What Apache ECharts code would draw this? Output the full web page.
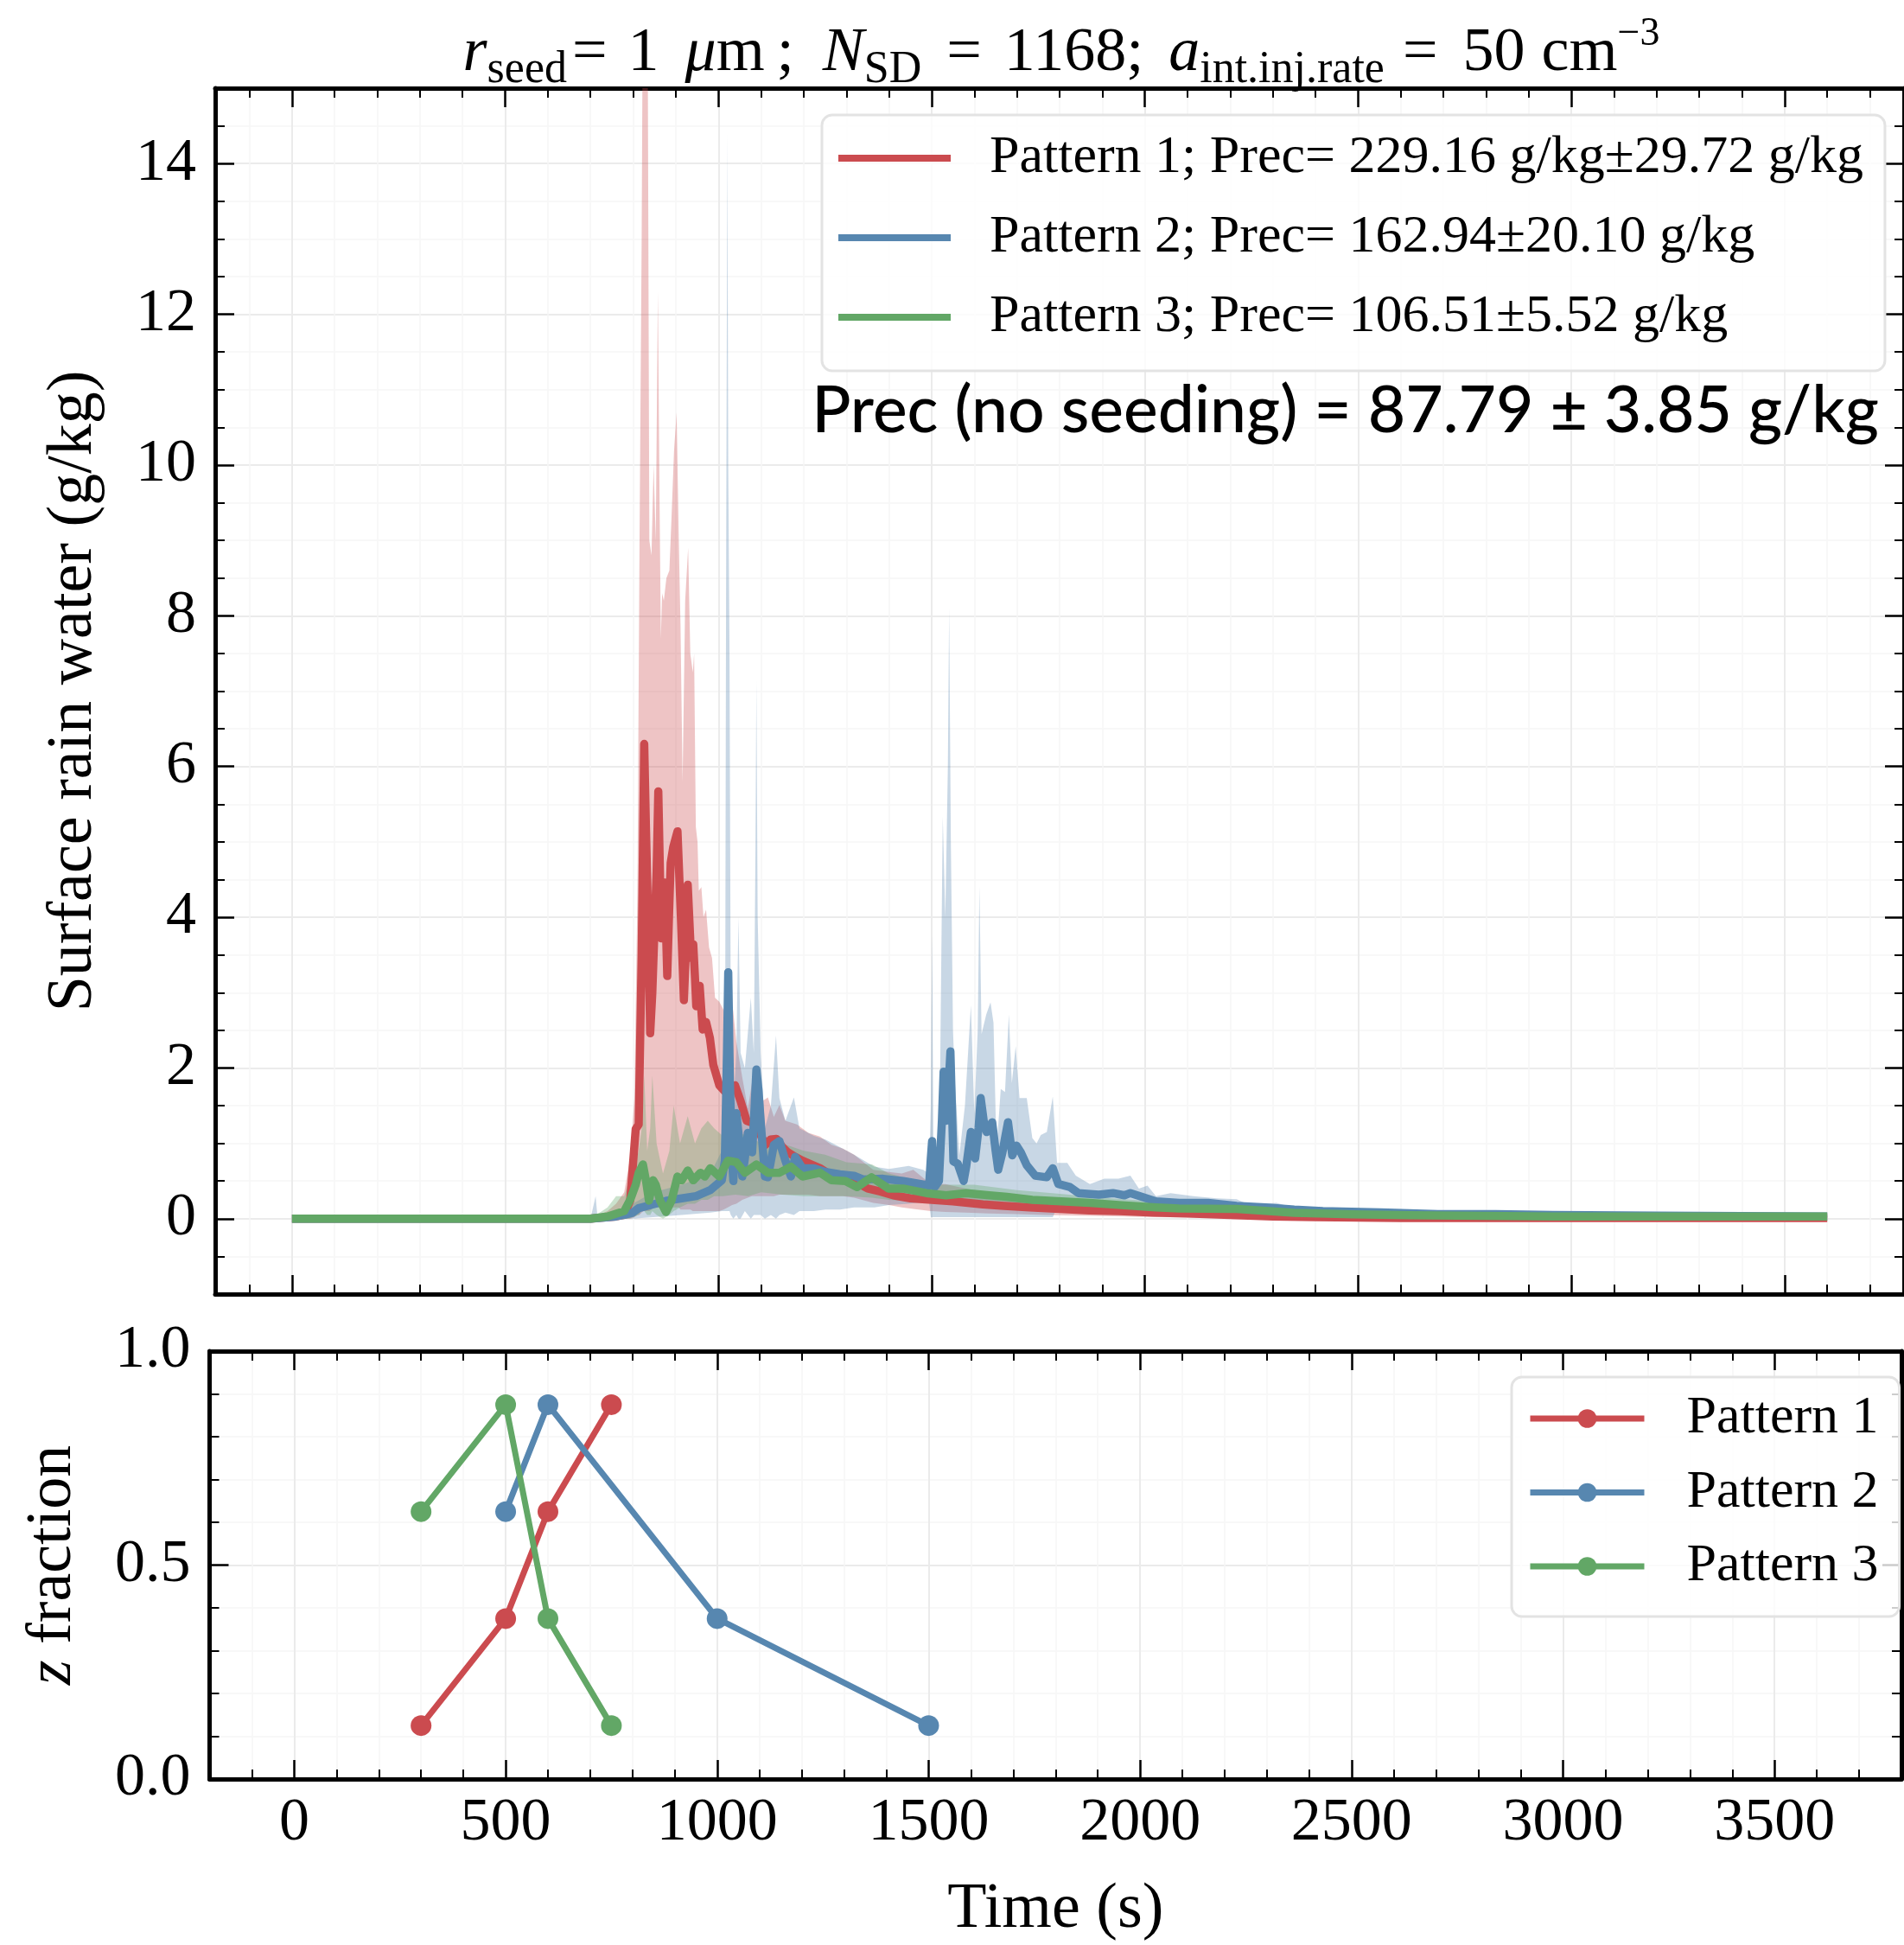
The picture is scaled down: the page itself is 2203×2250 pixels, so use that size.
<!DOCTYPE html>
<html><head><meta charset="utf-8">
<script src="https://cdn.jsdelivr.net/npm/echarts@6/dist/echarts.min.js"></script>
<style>html,body{margin:0;padding:0;background:#fff}#c{width:2203px;height:2250px}</style>
</head><body><div id="c"></div>
<script>
// ---------- DATA ----------
const legendNames = [
  'Pattern 1; Prec= 229.16 g/kg\u00b129.72 g/kg',
  'Pattern 2; Prec= 162.94\u00b120.10 g/kg',
  'Pattern 3; Prec= 106.51\u00b15.52 g/kg'
];
const patternNames = ['Pattern 1', 'Pattern 2', 'Pattern 3'];

// Pattern 1 mean
const p1T = [0,700,740,760,779,793,806,813,820,826,830,835,840,845,850,855,859,866,870,874,880,884,888,894,904,912,919,924,928,936,941,945,948,956,963,971,980,988,1002,1015,1027,1039,1052,1066,1076,1086,1098,1110,1122,1136,1150,1163,1180,1197,1218,1238,1258,1278,1298,1318,1350,1380,1410,1450,1500,1550,1620,1670,1730,1800,1870,1940,2020,2100,2200,2300,2400,2500,2600,2800,3000,3300,3600];
const p1M = [0,0,0.02,0.03,0.05,0.24,1.19,1.25,3.5,6.3,5.2,4.0,2.46,3.0,3.83,4.6,5.67,3.72,4.3,4.46,3.22,4.0,4.72,4.93,5.14,4.0,2.9,3.6,4.43,3.46,3.64,3.2,2.82,3.09,2.51,2.61,2.4,2.04,1.77,1.69,1.72,1.77,1.56,1.3,1.28,1.3,1.12,0.98,1.05,1.06,0.95,0.88,0.82,0.77,0.72,0.67,0.6,0.56,0.52,0.5,0.40,0.36,0.31,0.27,0.25,0.23,0.19,0.17,0.15,0.13,0.11,0.10,0.08,0.07,0.05,0.03,0.02,0.015,0.01,0.01,0.01,0.01,0.01];
// Pattern 1 band (mean - std, mean + std)
const p1BT = [0,700,740,760,779,793,803,810,815,820,825,830,834,838,843,848,853,858,862,865,868,872,878,885,890,896,902,907,911,916,922,929,934,940,943,947,951,954,960,965,971,978,985,992,1002,1012,1022,1032,1042,1056,1069,1079,1089,1103,1116,1130,1143,1157,1184,1211,1238,1265,1292,1318,1363,1400,1430,1457,1498,1532,1580,1633,1700,1768,1840,1903,2024,2200,2500,3000,3600];
const p1Hi = [0,0,0.1,0.2,0.35,0.8,1.6,4.3,9.0,13.0,19,19,16,9.0,8.8,10.0,9.0,12.3,9.5,7.7,8.3,8.2,8.5,8.6,9.3,10.2,10.7,9.0,7.9,5.8,8.2,8.9,7.5,7.25,7.5,5.2,5.0,4.35,4.4,4.0,4.1,3.6,3.46,2.93,2.88,2.77,2.61,2.9,2.35,1.87,1.46,1.82,1.67,1.56,1.61,1.35,1.51,1.3,1.25,1.14,1.09,0.98,0.93,0.85,0.65,0.62,0.6,0.65,0.46,0.46,0.4,0.35,0.3,0.25,0.22,0.19,0.14,0.1,0.06,0.04,0.03];
const p1Lo = [0,0,0,0,0,0,0.02,0.05,0.05,0.08,0.1,0.1,0.1,0.1,0.12,0.15,0.15,0.15,0.15,0.15,0.15,0.15,0.15,0.15,0.15,0.15,0.15,0.15,0.12,0.12,0.12,0.12,0.12,0.1,0.1,0.1,0.1,0.1,0.1,0.1,0.1,0.1,0.1,0.1,0.1,0.12,0.15,0.18,0.2,0.25,0.28,0.3,0.3,0.3,0.3,0.3,0.32,0.32,0.32,0.32,0.3,0.3,0.3,0.28,0.21,0.18,0.15,0.13,0.1,0.09,0.08,0.07,0.06,0.05,0.04,0.035,0.02,0.01,0,0,0];

// Pattern 2 mean
const p2T = [0,700,720,760,779,799,813,847,880,914,948,981,1008,1015,1020,1023,1027,1032,1035,1042,1049,1056,1062,1069,1079,1085,1089,1094,1099,1109,1116,1130,1143,1157,1170,1180,1197,1224,1251,1285,1318,1339,1386,1433,1474,1494,1498,1501,1504,1507,1517,1524,1528,1534,1540,1544,1551,1561,1575,1581,1592,1602,1610,1615,1622,1629,1642,1650,1656,1666,1673,1679,1689,1699,1709,1723,1743,1770,1784,1797,1824,1844,1892,1925,1952,1966,1993,2026,2080,2148,2215,2283,2350,2417,2552,2687,2822,2957,3200,3600];
const p2M = [0,0,0.01,0.03,0.05,0.08,0.14,0.19,0.24,0.27,0.30,0.38,0.51,0.77,2.2,3.27,1.8,0.77,0.5,1.40,1.03,0.56,0.8,1.14,0.88,1.5,1.98,1.7,1.30,0.56,0.55,0.98,1.03,0.77,0.56,0.82,0.67,0.67,0.62,0.59,0.57,0.52,0.53,0.50,0.46,0.44,0.8,1.03,0.6,0.42,0.5,1.3,1.95,1.30,1.8,2.22,0.76,0.73,0.50,0.69,1.15,0.80,1.2,1.60,1.3,1.15,1.28,0.9,0.65,0.88,1.1,1.28,0.84,0.97,0.88,0.71,0.57,0.55,0.67,0.46,0.42,0.34,0.32,0.34,0.31,0.34,0.29,0.23,0.21,0.21,0.17,0.15,0.12,0.10,0.085,0.06,0.06,0.05,0.04,0.03];
// Pattern 2 band
const p2BT = [0,700,712,716,740,779,799,847,914,981,1008,1016,1018,1021,1023,1026,1029,1035,1042,1047,1052,1062,1076,1083,1087,1089,1092,1099,1109,1123,1135,1143,1157,1177,1190,1224,1251,1285,1318,1366,1400,1446,1480,1494,1498,1501,1504,1515,1520,1526,1532,1538,1541,1545,1550,1555,1565,1578,1592,1600,1608,1612,1617,1628,1638,1645,1652,1662,1672,1681,1688,1697,1706,1723,1736,1746,1756,1770,1784,1794,1818,1838,1871,1905,1938,1966,1986,2006,2026,2060,2114,2168,2215,2242,2309,2350,2417,2485,2620,2957,3300,3600];
const p2Hi = [0,0,0.3,0.05,0.08,0.1,0.2,0.35,0.45,0.6,0.9,3.0,8.5,14.4,10,7.5,2.5,1.5,2.2,4.0,2.2,2.0,2.93,2.2,5.0,7.14,4.0,2.2,1.2,1.5,2.43,1.6,1.3,1.61,1.2,1.1,1.05,0.95,0.85,0.69,0.66,0.70,0.65,0.6,1.5,3.75,1.0,0.6,2.0,5.34,4.0,6.0,8.1,5.0,2.5,1.76,0.84,1.5,2.83,1.4,2.5,4.41,2.45,2.71,2.87,2.6,0.9,1.72,1.68,2.71,1.8,2.29,1.6,1.6,1.07,1.0,1.11,1.15,1.62,0.74,0.74,0.57,0.46,0.53,0.53,0.57,0.40,0.44,0.30,0.34,0.30,0.27,0.26,0.19,0.21,0.14,0.15,0.115,0.11,0.085,0.06,0.05];
const p2Lo = [0,0,0,0,0,0,0,0.02,0.05,0.08,0.1,0.1,0.1,0.1,0.1,0.1,0.05,0,0.05,0,0,0.1,0,0.05,0.05,0.05,0.05,0.05,0,0.05,0,0.05,0.08,0.05,0.1,0.1,0.12,0.12,0.15,0.15,0.18,0.2,0.22,0.22,0.02,0.02,0.02,0.02,0.02,0.02,0.02,0.02,0.02,0.02,0.02,0.02,0.02,0.02,0.02,0.02,0.02,0.02,0.02,0.02,0.02,0.02,0.02,0.02,0.02,0.02,0.02,0.02,0.02,0.02,0.02,0.02,0.02,0.02,0.02,0.15,0.18,0.2,0.2,0.2,0.2,0.2,0.18,0.17,0.15,0.14,0.13,0.12,0.1,0.1,0.09,0.08,0.07,0.06,0.05,0.03,0.03,0.02];

// Pattern 3 mean
const p3T = [0,700,740,779,793,806,813,823,830,837,847,853,863,877,890,904,914,928,941,958,968,981,1002,1022,1042,1062,1089,1116,1143,1170,1197,1238,1265,1298,1325,1359,1399,1433,1487,1534,1581,1635,1676,1736,1804,1871,1945,2026,2080,2215,2350,2485,2620,2957,3300,3600];
const p3M = [0,0,0.03,0.1,0.25,0.45,0.61,0.72,0.51,0.24,0.51,0.45,0.24,0.09,0.24,0.56,0.51,0.64,0.51,0.61,0.56,0.67,0.56,0.77,0.75,0.61,0.72,0.61,0.61,0.69,0.56,0.61,0.51,0.5,0.42,0.55,0.40,0.40,0.34,0.31,0.34,0.31,0.29,0.25,0.23,0.21,0.18,0.15,0.135,0.13,0.077,0.058,0.046,0.03,0.03,0.03];
// Pattern 3 band
const p3BT = [0,700,740,760,779,790,800,813,820,826,833,840,845,855,870,885,895,910,928,945,960,975,990,1010,1040,1070,1100,1150,1200,1250,1300,1360,1400,1500,1600,1700,1800,1900,2000,2200,2500,3000,3600];
const p3Hi = [0,0,0.15,0.3,0.3,0.5,0.6,0.9,1.2,1.9,0.9,1.2,1.9,1.0,0.6,0.9,1.5,1.0,1.36,1.0,1.2,1.3,1.2,1.1,1.15,1.1,1.0,1.0,0.9,0.85,0.75,0.72,0.6,0.45,0.45,0.38,0.33,0.28,0.24,0.17,0.09,0.05,0.04];
const p3Lo = [0,0,0,0,0,0,0.02,0.05,0.1,0.1,0.05,0.05,0.1,0.05,0,0.05,0.1,0.15,0.2,0.2,0.25,0.25,0.3,0.3,0.32,0.3,0.35,0.32,0.3,0.3,0.3,0.28,0.25,0.22,0.2,0.17,0.15,0.12,0.1,0.08,0.04,0.02,0.02];

// Bottom panel: injection z fraction vs time
const zT1 = [300, 500, 600, 750];   const zF1 = [0.125, 0.375, 0.625, 0.875];
const zT2 = [500, 600, 1000, 1500]; const zF2 = [0.625, 0.875, 0.375, 0.125];
const zT3 = [300, 500, 600, 750];   const zF3 = [0.625, 0.875, 0.375, 0.125];

// ---------- STYLE ----------
const SERIF = 'Liberation Serif';
const RED = '#cb4b4f', BLUE = '#5787b0', GREEN = '#62a766';
const RED_F = 'rgba(203,75,79,0.33)', BLUE_F = 'rgba(87,135,176,0.33)', GREEN_F = 'rgba(98,167,102,0.33)';
const pair = (T, V) => T.map((t, i) => [t, V[i]]);

function bandSeries(T, Lo, Hi, fill) {
  return {
    type: 'custom', xAxisIndex: 0, yAxisIndex: 0, silent: true, z: 2, clip: true,
    encode: { x: 0, y: 1 }, data: [[0, 0]],
    renderItem: function (params, api) {
      const pts = [];
      for (let i = 0; i < T.length; i++) pts.push(api.coord([T[i], Hi[i]]));
      for (let i = T.length - 1; i >= 0; i--) pts.push(api.coord([T[i], Lo[i]]));
      const cs = params.coordSys;
      return {
        type: 'polygon', shape: { points: pts }, style: { fill: fill, stroke: null },
        clipPath: { type: 'rect', shape: { x: cs.x, y: cs.y, width: cs.width, height: cs.height } }
      };
    }
  };
}
function meanLine(name, T, M, color) {
  return { type: 'line', name, xAxisIndex: 0, yAxisIndex: 0, data: pair(T, M), symbol: 'none', showSymbol: false,
    lineStyle: { color, width: 9.5, join: 'round' }, itemStyle: { color }, z: 3 };
}
function zLine(name, T, F, color) {
  return { type: 'line', name, xAxisIndex: 2, yAxisIndex: 2, data: pair(T, F), symbol: 'circle', symbolSize: 24,
    showSymbol: true, lineStyle: { color, width: 7 }, itemStyle: { color }, z: 3 };
}

const spine = { show: true, onZero: false, lineStyle: { color: '#000', width: 5 } };
const tick = { show: true, inside: true, length: 22, lineStyle: { color: '#000', width: 2.5 } };
const labelFont = { fontFamily: SERIF, fontSize: 70, color: '#000' };
const gridMajor = { show: true, lineStyle: { color: '#ebebeb', width: 2 } };
const gridMinor = { show: true, lineStyle: { color: '#f6f6f6', width: 1.5 } };

function xAx(grid, pos, min, max, labels, main) {
  return {
    type: 'value', gridIndex: grid, position: pos, min, max, splitNumber: 8, minInterval: 500, maxInterval: 500,
    axisLine: spine, axisTick: tick,
    minorTick: { show: true, splitNumber: 5, length: 11, lineStyle: { color: '#000', width: 2 } },
    axisLabel: labels ? Object.assign({ show: true, margin: 17, formatter: v => (v % 500 === 0 ? String(v) : '') }, labelFont) : { show: false },
    splitLine: main ? gridMajor : { show: false },
    minorSplitLine: main ? gridMinor : { show: false },
    name: labels ? 'Time (s)' : '', nameLocation: 'middle', nameGap: 115,
    nameTextStyle: { fontFamily: SERIF, fontSize: 74, color: '#000' }
  };
}
function yAx(grid, pos, min, max, step, minorSplit, labels, main, fmt, name, nameGap, rich) {
  return {
    type: 'value', gridIndex: grid, position: pos, min, max, splitNumber: Math.round((max - min) / step),
    minInterval: step, maxInterval: step,
    axisLine: spine, axisTick: tick,
    minorTick: { show: true, splitNumber: minorSplit, length: 11, lineStyle: { color: '#000', width: 2 } },
    axisLabel: labels ? Object.assign({ show: true, margin: 22, formatter: fmt }, labelFont) : { show: false },
    splitLine: main ? gridMajor : { show: false },
    minorSplitLine: main ? gridMinor : { show: false },
    name: name || '', nameLocation: 'middle', nameGap: nameGap || 0,
    nameTextStyle: Object.assign({ fontFamily: SERIF, fontSize: 74, color: '#000' }, rich ? { rich } : {})
  };
}

const topFmt = v => (Math.abs(v % 2) < 1e-9 ? String(v) : '');
const botFmt = v => (Math.abs((v * 2) % 1) < 1e-9 ? v.toFixed(1) : '');

const M = { fontFamily: SERIF, fontSize: 72, lineHeight: 90, fill: '#000' };
const MI = Object.assign({}, M, { fontStyle: 'italic' });
const SUB = { fontFamily: SERIF, fontSize: 52, lineHeight: 54, verticalAlign: 'bottom', fill: '#000' };
const titleRich = {
  n: M,
  r: MI,
  s: SUB,
  e1: Object.assign({}, M, { padding: [0, 24, 0, 6] }),
  mu: Object.assign({}, MI, { padding: [0, 0, 0, 30] }),
  sc: Object.assign({}, M, { padding: [0, 33, 0, 14] }),
  e2: Object.assign({}, M, { padding: [0, 26, 0, 29] }),
  a: Object.assign({}, MI, { padding: [0, 0, 0, 29] }),
  e3: Object.assign({}, M, { padding: [0, 29, 0, 21] }),
  cm: Object.assign({}, M, { padding: [0, 0, 0, 19] }),
  p: { fontFamily: SERIF, fontSize: 46, lineHeight: 72, verticalAlign: 'top', fill: '#000' }
};
const titleText = '{r|r}{s|seed}{e1|=}{n|1}{mu|\u03bc}{n|m}{sc|;}{r|N}{s|SD}{e2|=}{n|1168;}{a|a}{s|int.inj.rate}{e3|=}{n|50}{cm|cm}{p|\u22123}';

const option = {
  animation: false,
  backgroundColor: '#fff',
  grid: [
    { left: 249, top: 102, width: 1958, height: 1395 },
    { left: 242.5, top: 1563, width: 1983, height: 495 }
  ],
  xAxis: [
    xAx(0, 'bottom', -180, 3780, false, true),
    xAx(0, 'top', -180, 3780, false, false),
    xAx(1, 'bottom', -200, 3800, true, true),
    xAx(1, 'top', -200, 3800, false, false)
  ],
  yAxis: [
    yAx(0, 'left', -1, 15, 2, 4, true, true, topFmt, 'Surface rain water (g/kg)', 126),
    yAx(0, 'right', -1, 15, 2, 4, false, false),
    yAx(1, 'left', 0, 1, 0.5, 5, true, true, botFmt, '{i|z} fraction', 144,
        { i: { fontFamily: SERIF, fontSize: 74, fontStyle: 'italic', color: '#000' } }),
    yAx(1, 'right', 0, 1, 0.5, 5, false, false)
  ],
  legend: [
    {
      data: legendNames.map(n => ({ name: n, icon: 'rect' })),
      orient: 'vertical', left: 951, top: 133, itemWidth: 130, itemHeight: 8, itemGap: 30,
      padding: [19, 25, 31, 19], backgroundColor: 'rgba(255,255,255,0.8)',
      borderColor: '#e3e3e3', borderWidth: 3, borderRadius: 12, selectedMode: false,
      itemStyle: { borderWidth: 0 }, z: 10,
      textStyle: { fontFamily: SERIF, fontSize: 62, lineHeight: 60, color: '#000', padding: [0, 0, 0, 40] }
    },
    {
      data: patternNames,
      orient: 'vertical', left: 1749, top: 1593, itemWidth: 132, itemHeight: 27, itemGap: 23.5,
      padding: [17, 24, 27, 18], backgroundColor: 'rgba(255,255,255,0.8)',
      borderColor: '#e3e3e3', borderWidth: 3, borderRadius: 12, selectedMode: false, z: 10,
      lineStyle: { width: 7 },
      textStyle: { fontFamily: SERIF, fontSize: 62, lineHeight: 60, color: '#000', padding: [0, 0, 0, 44] }
    }
  ],
  graphic: [
    {
      type: 'text', x: 1228, y: 62, silent: true, z: 20,
      style: { text: titleText, align: 'center', verticalAlign: 'middle', rich: titleRich }
    },
    {
      type: 'text', x: 2174, y: 476, silent: true, z: 20,
      style: {
        text: 'Prec (no seeding) = 87.79 \u00b1 3.85 g/kg',
        font: '500 75px Lato', fill: '#000', align: 'right', verticalAlign: 'middle'
      }
    }
  ],
  series: [
    bandSeries(p1BT, p1Lo, p1Hi, RED_F),
    bandSeries(p2BT, p2Lo, p2Hi, BLUE_F),
    bandSeries(p3BT, p3Lo, p3Hi, GREEN_F),
    meanLine(legendNames[0], p1T, p1M, RED),
    meanLine(legendNames[1], p2T, p2M, BLUE),
    meanLine(legendNames[2], p3T, p3M, GREEN),
    zLine(patternNames[0], zT1, zF1, RED),
    zLine(patternNames[1], zT2, zF2, BLUE),
    zLine(patternNames[2], zT3, zF3, GREEN)
  ]
};

const chart = echarts.init(document.getElementById('c'), null, { renderer: 'canvas', width: 2203, height: 2250 });
chart.setOption(option);
</script></body></html>
